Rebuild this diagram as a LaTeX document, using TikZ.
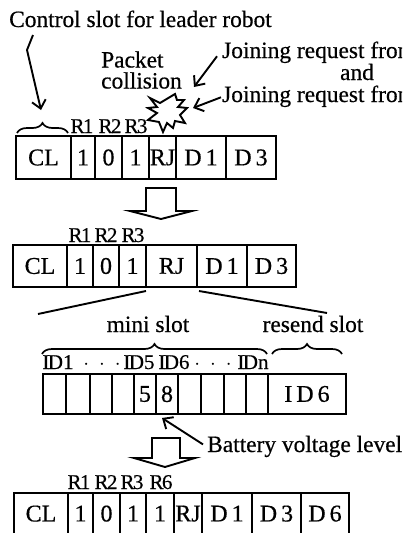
\documentclass[tikz,border=0pt]{standalone}
\usepackage{fontspec}
\setmainfont[FakeBold=0.5]{Liberation Serif}
\usetikzlibrary{arrows.meta,decorations.pathreplacing}
\newcommand{\slotname}[2]{#1\kern-1.6pt #2}
\newcommand{\slotdots}{$\cdot$\hspace{10pt}$\cdot$\hspace{10pt}$\cdot$}
\tikzset{
  x=1pt, y=-1pt,
  cell/.style={draw, line width=1.9pt, inner sep=0pt, outer sep=0pt, font=\fontsize{24}{24}\selectfont},
  lastcell/.style={cell, minimum height=46pt, text depth=5pt},
  caption/.style={inner sep=0pt, font=\fontsize{23.4}{23}\selectfont, align=center},
  tag/.style={inner sep=0pt, anchor=base, font=\fontsize{21}{21}\selectfont},
  pointer/.style={line width=1.9pt, -{Straight Barb[length=8pt,width=14pt]}},
  span/.style={line width=1.7pt, decorate, decoration={brace, amplitude=10pt}},
  hollow/.style={line width=1.9pt, line join=miter}
}
\begin{document}
\begin{tikzpicture}
\clip (0,0) rectangle (402,533);
% first frame
\node[cell, minimum width=55pt, minimum height=43pt] (cla) at (43.5,157.5) {CL};
\node[cell, minimum width=24pt, minimum height=43pt] (onea) at (83,157.5) {1};
\node[cell, minimum width=27pt, minimum height=43pt] (zeroa) at (108.5,157.5) {0};
\node[cell, minimum width=27pt, minimum height=43pt] (threea) at (135.5,157.5) {1};
\node[cell, minimum width=27pt, minimum height=43pt] (rja) at (162.5,157.5) {RJ};
\node[cell, minimum width=50pt, minimum height=43pt] (dya) at (201,157.5) {D\,1};
\node[cell, minimum width=50pt, minimum height=43pt] (dza) at (251,157.5) {D\,3};
\node[tag] (rxa) at (82,133) {\slotname{R}{1}};
\node[tag] (rya) at (110,133) {\slotname{R}{2}};
\node[tag] (rza) at (136,133) {\slotname{R}{3}};
% texts on top
\node[caption, anchor=base west] (control) at (9,27) {Control slot for leader robot};
\node[caption, anchor=west, align=left] (collision) at (101,70) {Packet\\[-2pt]collision};
\node[caption, anchor=base west] (joina) at (222,58) {Joining request from};
\node[caption, anchor=base] (joinand) at (357,80) {and};
\node[caption, anchor=base west] (joinb) at (222,102) {Joining request from};
% arrows on top
\coordinate (controltip) at (41,110);
\coordinate (bendtip) at (27,50);
\coordinate (burstn) at (194,87);
\coordinate (burste) at (193,108);
\draw[pointer] (33,35) -- (bendtip) -- (controltip);
\draw[pointer] (joina.west)+(-5,4) -- (burstn);
\draw[pointer] (joinb.west)+(-1,1) -- (burste);
\draw[span] (17,133) -- (68,133);
% collision
\draw[line width=1.9pt, line join=miter] (150,98) -- (160,103) -- (175,94) -- (177,100) -- (184,100) -- (178,107) -- (187,108) -- (180,115) -- (185,123) -- (175,121) -- (173,128) -- (167,123) -- (163,132) -- (159,122) -- (148,120) -- (157,113) -- (148,108) -- (157,107) -- cycle;
% first big arrow
\draw[hollow] (146,188) -- (176,188) -- (176,211) -- (192,211) -- (161,219) -- (130,211) -- (146,211) -- cycle;
% second frame
\node[cell, minimum width=54pt, minimum height=42pt] (clb) at (40,266) {CL};
\node[cell, minimum width=26pt, minimum height=42pt] (oneb) at (80,266) {1};
\node[cell, minimum width=26pt, minimum height=42pt] (zerob) at (106,266) {0};
\node[cell, minimum width=27pt, minimum height=42pt] (threeb) at (132.5,266) {1};
\node[cell, minimum width=51pt, minimum height=42pt] (rjb) at (171.5,266) {RJ};
\node[cell, minimum width=50pt, minimum height=42pt] (dyb) at (222,266) {D\,1};
\node[cell, minimum width=49pt, minimum height=42pt] (dzb) at (271.5,266) {D\,3};
\node[tag] (rxb) at (80,242) {\slotname{R}{1}};
\node[tag] (ryb) at (106,242) {\slotname{R}{2}};
\node[tag] (rzb) at (133,242) {\slotname{R}{3}};
% zoom lines
\coordinate (zoomleft) at (38,314);
\coordinate (zoomright) at (327,313);
\draw[line width=1.9pt] (rjb.south west)+(0,4) -- (zoomleft);
\draw[line width=1.9pt] (rjb.south east)+(2,4) -- (zoomright);
% mini slots
\node[caption, anchor=base] (mini) at (148,332) {mini slot};
\node[caption, anchor=base] (resend) at (313,332) {resend slot};
\draw[span] (42,354) -- (267,354);
\draw[span] (272,354) -- (342,354);
\node[tag] (ida) at (58,369) {\slotname{I}{D}1};
\node[tag] (dotsa) at (102,369) {\slotdots};
\node[tag] (idb) at (139,369) {\slotname{I}{D}5};
\node[tag] (idc) at (174,369) {\slotname{I}{D}6};
\node[tag] (dotsb) at (213,369) {\slotdots};
\node[tag] (idd) at (253,369) {\slotname{I}{D}n};
\node[cell, minimum width=23pt, minimum height=40pt] (ma) at (54.5,394) {};
\node[cell, minimum width=24pt, minimum height=40pt] (mb) at (78,394) {};
\node[cell, minimum width=22pt, minimum height=40pt] (mc) at (101,394) {};
\node[cell, minimum width=22pt, minimum height=40pt] (md) at (123,394) {};
\node[cell, minimum width=22pt, minimum height=40pt] (me) at (145,394) {5};
\node[cell, minimum width=22pt, minimum height=40pt] (mf) at (167,394) {8};
\node[cell, minimum width=23pt, minimum height=40pt] (mg) at (189.5,394) {};
\node[cell, minimum width=23pt, minimum height=40pt] (mh) at (212.5,394) {};
\node[cell, minimum width=22pt, minimum height=40pt] (mi) at (235,394) {};
\node[cell, minimum width=22pt, minimum height=40pt] (mj) at (257,394) {};
\node[cell, minimum width=78pt, minimum height=40pt] (mk) at (307,394) {I\,D\,6};
% battery
\node[caption, anchor=base west] (battery) at (207,452) {Battery voltage level};
\coordinate (batterytip) at (162,418);
\draw[pointer] (battery.west)+(-4,-2) -- (batterytip);
% second big arrow
\draw[hollow] (152,438) -- (180,438) -- (180,458) -- (195,458) -- (165,467) -- (134,458) -- (152,458) -- cycle;
% last frame
\node[lastcell, minimum width=54pt] (clc) at (41,516) {CL};
\node[lastcell, minimum width=25pt] (onec) at (80.5,516) {1};
\node[lastcell, minimum width=27pt] (zeroc) at (106.5,516) {0};
\node[lastcell, minimum width=26pt] (threec) at (133,516) {1};
\node[lastcell, minimum width=28pt] (sixc) at (160,516) {1};
\node[lastcell, minimum width=28pt] (rjc) at (188,516) {RJ};
\node[lastcell, minimum width=50pt] (dyc) at (227,516) {D\,1};
\node[lastcell, minimum width=49pt] (dzc) at (276.5,516) {D\,3};
\node[lastcell, minimum width=48pt] (dxc) at (325,516) {D\,6};
\node[tag] (rxc) at (79,489) {\slotname{R}{1}};
\node[tag] (ryc) at (106,489) {\slotname{R}{2}};
\node[tag] (rzc) at (132,489) {\slotname{R}{3}};
\node[tag] (rwc) at (161,489) {\slotname{R}{6}};
\end{tikzpicture}
\end{document}
